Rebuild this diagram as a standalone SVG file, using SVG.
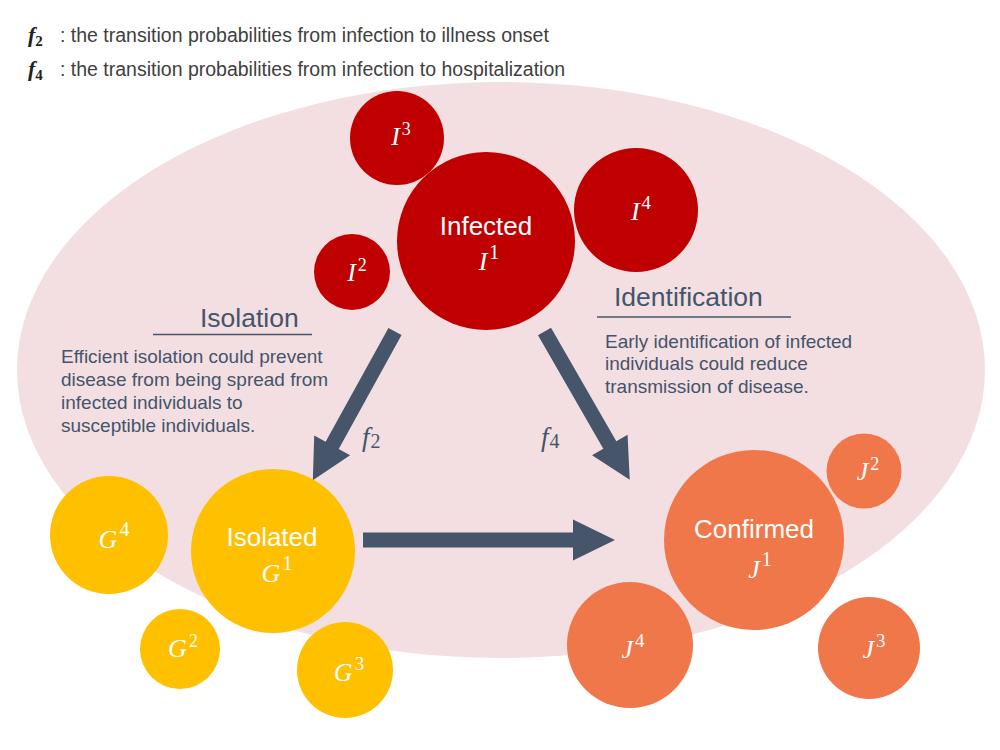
<svg xmlns="http://www.w3.org/2000/svg" width="1000" height="750" viewBox="0 0 1000 750">
<style>
.sans{font-family:"Liberation Sans",Arial,sans-serif;}
.m{font-family:"Liberation Serif","Times New Roman",serif;font-style:italic;}
.sup{font-style:normal;}
.lbl{font-family:"Liberation Sans",Arial,sans-serif;font-size:26px;fill:#ffffff;text-anchor:middle;}
.ml{font-family:"Liberation Serif","Times New Roman",serif;font-style:italic;font-size:26px;fill:#ffffff;text-anchor:middle;}
.head{font-family:"Liberation Sans",Arial,sans-serif;font-size:26.5px;fill:#44546a;}
.para{font-family:"Liberation Sans",Arial,sans-serif;font-size:19px;fill:#44546a;}
.leg{font-family:"Liberation Sans",Arial,sans-serif;font-size:19.5px;fill:#404040;}
.red{fill:#c00000;}
.yel{fill:#ffc000;}
.org{fill:#f07749;}
.arrow{fill:#47556b;}
.rule{stroke:#44546a;stroke-width:1.5;}
</style>
<rect width="1000" height="750" fill="#ffffff"/>
<ellipse cx="501" cy="370" rx="484" ry="288" fill="#f3dfe2"/>

<g id="legend">
<text x="28" y="42" class="m" font-size="22" font-weight="bold" fill="#222">f<tspan class="sup" font-size="15" dy="4">2</tspan></text>
<text x="60" y="42" class="leg">: the transition probabilities from infection to illness onset</text>
<text x="28" y="76" class="m" font-size="22" font-weight="bold" fill="#222">f<tspan class="sup" font-size="15" dy="4">4</tspan></text>
<text x="60" y="76" class="leg">: the transition probabilities from infection to hospitalization</text>
</g>

<g id="isolation-note">
<text x="200" y="327" class="head">Isolation</text>
<line x1="153" y1="334.5" x2="312" y2="334.5" class="rule"/>
<text class="para" font-size="19.3"><tspan x="61" y="363">Efficient isolation could prevent</tspan><tspan x="61" y="386">disease from being spread from</tspan><tspan x="61" y="409">infected individuals to</tspan><tspan x="61" y="432">susceptible individuals.</tspan></text>
</g>

<g id="identification-note">
<text x="614" y="306" class="head">Identification</text>
<line x1="597" y1="317" x2="791" y2="317" class="rule"/>
<text class="para"><tspan x="605" y="348">Early identification of infected</tspan><tspan x="605" y="370">individuals could reduce</tspan><tspan x="605" y="393">transmission of disease.</tspan></text>
</g>

<g id="connectors">
<polygon class="arrow" transform="translate(395,331.5) rotate(118.9)" points="0,-7.5 130,-7.5 130,-20.5 170,0 130,20.5 130,7.5 0,7.5"/>
<polygon class="arrow" transform="translate(544.5,331.5) rotate(60.1)" points="0,-7.5 131,-7.5 131,-20.5 171,0 131,20.5 131,7.5 0,7.5"/>
<polygon class="arrow" transform="translate(363,540)" points="0,-7.5 210,-7.5 210,-20.5 252,0 210,20.5 210,7.5 0,7.5"/>
<text x="362" y="446" class="m" font-size="27" fill="#44546a">f<tspan class="sup" font-size="20" dx="1" dy="2">2</tspan></text>
<text x="541" y="446" class="m" font-size="27" fill="#44546a">f<tspan class="sup" font-size="20" dx="1" dy="2">4</tspan></text>
</g>

<g id="node-I3"><circle cx="397" cy="138" r="47" class="red"/><text x="401" y="145" class="ml" font-size="25">I<tspan class="sup" font-size="18" dx="2" dy="-10">3</tspan></text></g>
<g id="node-I4"><circle cx="636" cy="210" r="62" class="red"/><text x="641" y="220" class="ml" font-size="26">I<tspan class="sup" font-size="19" dx="2" dy="-11">4</tspan></text></g>
<g id="node-I2"><circle cx="352" cy="272" r="38" class="red"/><text x="357" y="281" class="ml" font-size="25">I<tspan class="sup" font-size="18" dx="2" dy="-10">2</tspan></text></g>
<g id="node-I1"><circle cx="486" cy="241" r="89" class="red"/><text x="486" y="235" class="lbl" font-size="27">Infected</text><text x="489" y="270" class="ml" font-size="27">I<tspan class="sup" font-size="20" dx="2" dy="-11">1</tspan></text></g>

<g id="node-G4"><circle cx="109" cy="535" r="59" class="yel"/><text x="114" y="548" class="ml" font-size="27">G<tspan class="sup" font-size="20" dx="2" dy="-12">4</tspan></text></g>
<g id="node-G1"><circle cx="273" cy="551" r="82" class="yel"/><text x="272" y="546" class="lbl" font-size="26.5">Isolated</text><text x="277" y="582" class="ml" font-size="27">G<tspan class="sup" font-size="20" dx="2" dy="-12">1</tspan></text></g>
<g id="node-G2"><circle cx="180" cy="649" r="40" class="yel"/><text x="183" y="657" class="ml" font-size="24">G<tspan class="sup" font-size="18" dx="2" dy="-10">2</tspan></text></g>
<g id="node-G3"><circle cx="345" cy="670" r="48" class="yel"/><text x="349" y="681" class="ml" font-size="25">G<tspan class="sup" font-size="19" dx="2" dy="-11">3</tspan></text></g>

<g id="node-J1"><circle cx="754" cy="540" r="90" class="org"/><text x="754" y="538" class="lbl" font-size="27">Confirmed</text><text x="760" y="578" class="ml" font-size="27">J<tspan class="sup" font-size="20" dx="2" dy="-12">1</tspan></text></g>
<g id="node-J2"><circle cx="864" cy="471" r="37.5" class="org"/><text x="868" y="480" class="ml" font-size="24">J<tspan class="sup" font-size="18" dx="2" dy="-10">2</tspan></text></g>
<g id="node-J4"><circle cx="630" cy="645" r="63" class="org"/><text x="633" y="658" class="ml" font-size="26">J<tspan class="sup" font-size="19" dx="2" dy="-11">4</tspan></text></g>
<g id="node-J3"><circle cx="869" cy="648" r="51" class="org"/><text x="874" y="658" class="ml" font-size="26">J<tspan class="sup" font-size="19" dx="2" dy="-11">3</tspan></text></g>
</svg>
